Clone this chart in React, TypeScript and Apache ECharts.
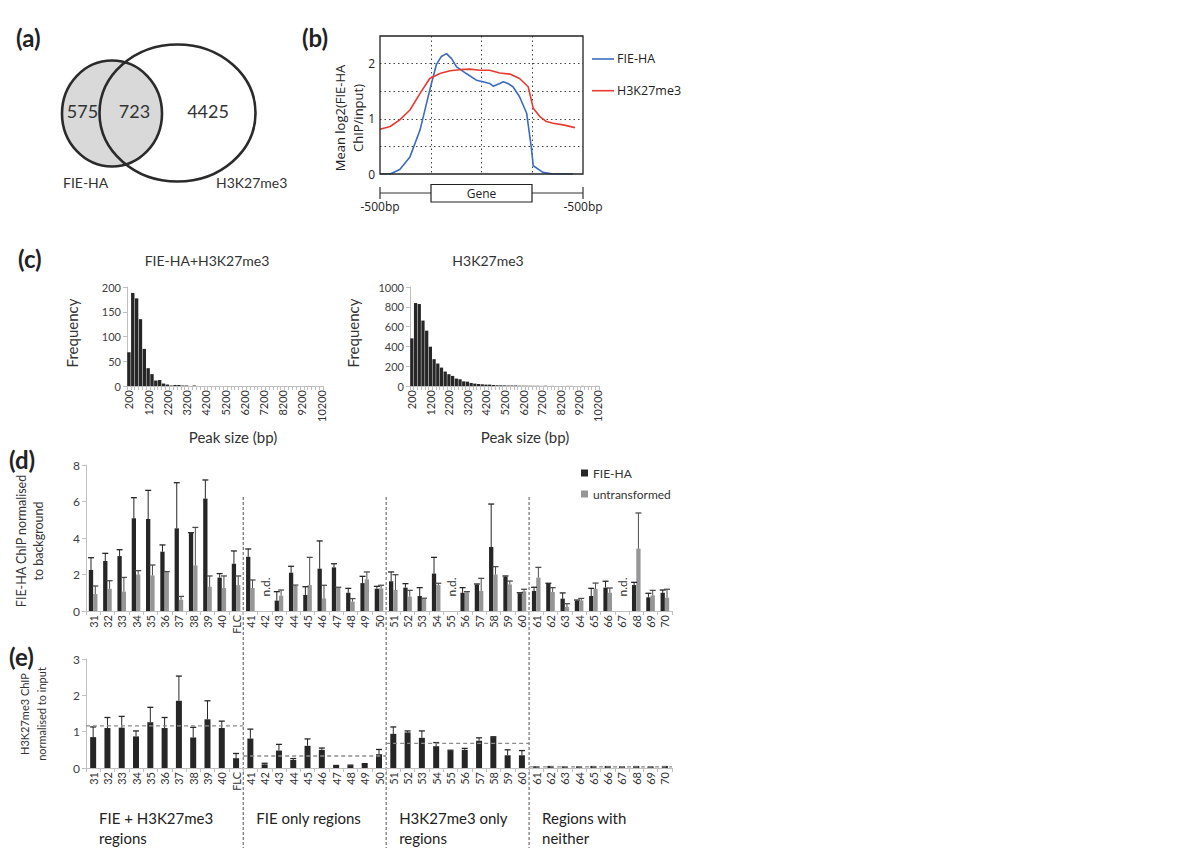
import React, { useEffect, useRef } from 'react';
import * as echarts from 'echarts';

const FONT = 'Lato, "Open Sans", sans-serif';
const FONT_B = '"Open Sans", Lato, sans-serif';

// ---------- (a) Venn ----------
const vennCounts = ['575', '723', '4425'];
const vennNames = ['FIE-HA', 'H3K27me3'];

// ---------- (b) profile ----------
const profileNames = ['FIE-HA', 'H3K27me3'];
const profileFIE: [number, number][] = [
  [0, 0.0], [0.2, 0.0], [0.39, 0.08], [0.59, 0.31], [0.79, 0.8], [0.98, 1.52], [1.11, 1.98],
  [1.21, 2.13], [1.31, 2.18], [1.41, 2.09], [1.51, 1.94], [1.7, 1.82], [1.9, 1.7], [2.03, 1.67],
  [2.16, 1.64], [2.23, 1.59], [2.36, 1.64], [2.43, 1.67], [2.52, 1.64], [2.62, 1.58], [2.75, 1.4],
  [2.89, 1.1], [2.98, 0.49], [3.02, 0.15], [3.21, 0.03], [3.41, 0.0], [3.61, 0.0], [3.8, 0.0],
];
const profileH3: [number, number][] = [
  [0, 0.81], [0.2, 0.86], [0.39, 0.98], [0.59, 1.16], [0.79, 1.46], [0.98, 1.73], [1.18, 1.82],
  [1.38, 1.87], [1.57, 1.89], [1.77, 1.9], [1.97, 1.88], [2.16, 1.88], [2.36, 1.83], [2.56, 1.81],
  [2.75, 1.73], [2.92, 1.58], [3.02, 1.19], [3.15, 1.04], [3.28, 0.95], [3.41, 0.92], [3.61, 0.89],
  [3.84, 0.84],
];
const geneLabels = ['-500bp', 'Gene', '-500bp'];

// ---------- (c) histograms ----------
const peakSizeBins = [
  '200', '400', '600', '800', '1000', '1200', '1400', '1600', '1800', '2000', '2200', '2400', '2600',
  '2800', '3000', '3200', '3400', '3600', '3800', '4000', '4200', '4400', '4600', '4800', '5000',
  '5200', '5400', '5600', '5800', '6000', '6200', '6400', '6600', '6800', '7000', '7200', '7400',
  '7600', '7800', '8000', '8200', '8400', '8600', '8800', '9000', '9200', '9400', '9600', '9800',
  '10000', '10200',
];
const histBoth = [
  68, 188, 177, 135, 75, 36, 24, 11, 12, 5, 3, 1, 2, 2, 1, 1, 0, 1, 0, 0, 0, 0, 0, 0, 0, 0, 0, 0, 0,
  0, 0, 0, 0, 0, 0, 0, 0, 0, 0, 0, 0, 0, 0, 0, 0, 0, 0, 0, 0, 0, 0,
];
const histH3 = [
  481, 838, 828, 661, 559, 397, 271, 227, 186, 146, 119, 102, 75, 68, 47, 44, 31, 24, 20, 17, 14, 14,
  10, 7, 7, 6, 5, 4, 4, 3, 3, 2, 2, 2, 2, 1, 3, 1, 1, 1, 1, 1, 1, 1, 1, 0, 1, 0, 1, 0, 1,
];
const histTitles = ['FIE-HA+H3K27me3', 'H3K27me3'];

// ---------- (d) FIE-HA ChIP ----------
const regionCats = [
  '31', '32', '33', '34', '35', '36', '37', '38', '39', '40', 'FLC',
  '41', '42', '43', '44', '45', '46', '47', '48', '49', '50',
  '51', '52', '53', '54', '55', '56', '57', '58', '59', '60',
  '61', '62', '63', '64', '65', '66', '67', '68', '69', '70',
];
const fieHA = [
  2.25, 2.74, 3.01, 5.08, 5.04, 3.25, 4.53, 4.27, 6.16, 1.83, 2.59,
  2.97, null, 0.57, 2.1, 0.88, 2.32, 2.39, 1.0, 1.53, 1.22,
  1.63, 1.28, 0.82, 2.05, null, 1.0, 1.44, 3.51, 1.88, 0.97,
  1.1, 1.5, 0.68, 0.55, 0.82, 1.28, null, 1.42, 0.75, 1.0,
];
const fieHAErr = [
  2.92, 3.16, 3.36, 6.21, 6.61, 3.62, 7.03, 4.29, 7.18, 2.05, 3.29,
  3.4, null, 1.06, 2.45, 1.33, 3.84, 2.59, 1.24, 1.9, 1.35,
  2.14, 1.5, 1.28, 2.94, null, 1.28, 1.48, 5.86, 1.92, 1.0,
  1.3, 1.52, 0.99, 0.6, 1.24, 1.63, null, 1.57, 0.97, 1.15,
];
const untrans = [
  0.93, 1.22, 1.06, 2.0, 1.95, 2.14, 0.62, 2.5, 1.33, 1.26, 1.42,
  1.26, null, 0.84, 1.37, 1.42, 0.69, 1.28, 0.51, 1.74, 1.24,
  1.15, 0.79, 0.68, 1.42, null, 1.02, 1.1, 2.0, 1.46, 1.08,
  1.83, 1.04, 0.22, 0.58, 1.21, 1.0, null, 3.42, 0.86, 0.73,
];
const untransErr = [
  1.37, 1.66, 1.84, 2.21, 2.52, 2.16, 0.8, 4.58, 1.92, 1.92, 1.92,
  1.7, null, 1.15, 1.42, 2.94, 1.41, 1.3, 0.68, 2.14, 1.41,
  1.99, 1.13, 0.7, 1.52, null, 1.06, 1.79, 2.43, 1.64, 1.19,
  2.39, 1.28, 0.4, 0.69, 1.53, 1.26, null, 5.37, 1.13, 1.19,
];
const ndCats = ['42', '55', '67'];
const dSeriesNames = ['FIE-HA', 'untransformed'];

// ---------- (e) H3K27me3 ChIP ----------
const h3Input = [
  0.85, 1.1, 1.11, 0.87, 1.26, 1.1, 1.85, 0.84, 1.34, 1.1, 0.27,
  0.81, 0.1, 0.48, 0.22, 0.61, 0.5, 0.06, 0.07, 0.11, 0.38,
  0.94, 0.98, 0.83, 0.6, 0.48, 0.5, 0.75, 0.85, 0.35, 0.35,
  0.02, 0.03, 0.02, 0.02, 0.03, 0.03, 0.02, 0.03, 0.02, 0.03,
];
const h3InputErr = [
  1.13, 1.39, 1.42, 1.02, 1.67, 1.39, 2.53, 1.12, 1.85, 1.29, 0.4,
  1.07, 0.13, 0.65, 0.26, 0.8, 0.55, 0.07, 0.08, 0.12, 0.51,
  1.13, 1.02, 1.02, 0.7, 0.49, 0.54, 0.83, 0.86, 0.5, 0.48,
  0.03, 0.04, 0.03, 0.03, 0.04, 0.04, 0.03, 0.04, 0.03, 0.04,
];
const regionBounds = [['31', 'FLC'], ['41', '50'], ['51', '60'], ['61', '70']];
const regionMeans = [1.16, 0.33, 0.68, 0.03];
const regionLabels = ['FIE + H3K27me3\nregions', 'FIE only regions', 'H3K27me3 only\nregions', 'Regions with\nneither'];

// ---------- layout ----------
const GB = { left: 380, top: 36, width: 203, height: 138 };
const GCL = { left: 127, top: 287, width: 196, height: 99 };
const GCR = { left: 410, top: 287, width: 189, height: 99 };
const GD = { left: 86, top: 465, width: 586, height: 146 };
const GE = { left: 86, top: 659, width: 586, height: 109 };

const DARK = '#262626';
const GRAYBAR = '#969696';
const AXIS = '#bfbfbf';
const TXT = '#333';

function txt(x: number, y: number, text: string, o: any = {}) {
  const align = o.align || 'left';
  const v = o.v || 'middle';
  return {
    type: 'text',
    x,
    y,
    rotation: o.rotation || 0,
    silent: true,
    style: {
      text,
      fill: o.color || TXT,
      fontSize: o.size || 12,
      fontFamily: o.family || FONT,
      fontWeight: o.weight || 'normal',
      lineHeight: o.lh,
      align,
      verticalAlign: v,
      textAlign: align,
      textVerticalAlign: v,
    },
  };
}

function errRender(offset: number, cap: number, color: string) {
  return (params: any, api: any) => {
    const i = api.value(0);
    const lo = api.value(1);
    const hi = api.value(2);
    const p1 = api.coord([i, lo]);
    const p2 = api.coord([i, hi]);
    const x = p1[0] + offset;
    return {
      type: 'group',
      children: [
        { type: 'line', shape: { x1: x, y1: p1[1], x2: x, y2: p2[1] }, style: { stroke: color, lineWidth: 1 } },
        { type: 'line', shape: { x1: x - cap, y1: p2[1], x2: x + cap, y2: p2[1] }, style: { stroke: color, lineWidth: 1.3 } },
      ],
    };
  };
}

function errData(vals: (number | null)[], errs: (number | null)[]) {
  const out: number[][] = [];
  vals.forEach((v, i) => {
    if (v != null && errs[i] != null) out.push([i, v, errs[i] as number]);
  });
  return out;
}

function catAxis(gridIndex: number, data: string[], interval: number, fontSize: number) {
  return {
    type: 'category',
    gridIndex,
    data,
    axisLine: { show: true, lineStyle: { color: AXIS, width: 1 } },
    axisTick: { show: true, interval: 0, length: 4, lineStyle: { color: AXIS } },
    axisLabel: { interval, rotate: 90, fontSize, color: TXT, fontFamily: FONT, margin: 4 },
    splitLine: { show: false },
  };
}

function valAxis(gridIndex: number, max: number, interval: number, fontSize: number) {
  return {
    type: 'value',
    gridIndex,
    min: 0,
    max,
    interval,
    axisLine: { show: true, lineStyle: { color: AXIS, width: 1 } },
    axisTick: { show: true, length: 4, lineStyle: { color: AXIS } },
    axisLabel: { fontSize, color: '#404040', fontFamily: FONT, margin: 6, formatter: (v: number) => String(v) },
    splitLine: { show: false },
  };
}

function buildOption(): any {
  const band = GD.width / regionCats.length;
  const sepX = [11, 21, 31].map((k) => GD.left + k * band);
  const regionStarts = [0, 11, 21, 31].map((k) => GD.left + k * band);

  const graphic: any[] = [
    // panel letters
    txt(16, 37, '(a)', { size: 24, weight: 'bold', color: '#222' }),
    txt(302, 37, '(b)', { size: 24, weight: 'bold', color: '#222' }),
    txt(18, 258, '(c)', { size: 24, weight: 'bold', color: '#222' }),
    txt(9, 459, '(d)', { size: 24, weight: 'bold', color: '#222' }),
    txt(9, 656, '(e)', { size: 24, weight: 'bold', color: '#222' }),
    // Venn
    { type: 'ellipse', shape: { cx: 112, cy: 113.5, rx: 50, ry: 53 }, style: { fill: '#d9d9d9', stroke: null } },
    { type: 'ellipse', shape: { cx: 177.5, cy: 113, rx: 78, ry: 68.5 }, style: { fill: 'none', stroke: '#2b2b2b', lineWidth: 2.6 } },
    { type: 'ellipse', shape: { cx: 112, cy: 113.5, rx: 50, ry: 53 }, style: { fill: 'none', stroke: '#2b2b2b', lineWidth: 2.6 } },
    txt(82.5, 111, vennCounts[0], { size: 18, align: 'center' }),
    txt(134.5, 111, vennCounts[1], { size: 18, align: 'center' }),
    txt(208, 111, vennCounts[2], { size: 18, align: 'center' }),
    txt(63, 182, vennNames[0], { size: 14 }),
    txt(216, 182, vennNames[1], { size: 14 }),
    // (b) frame
    { type: 'rect', z: 50, shape: { x: GB.left, y: GB.top, width: GB.width, height: GB.height }, style: { fill: 'none', stroke: '#222', lineWidth: 1.3 } },
    // (b) y title
    txt(349, 118, 'Mean log2(FIE-HA\nChIP/input)', { size: 13, family: FONT_B, align: 'center', rotation: Math.PI / 2, lh: 18, color: '#222' }),
    // (b) legend
    { type: 'line', shape: { x1: 592, y1: 59, x2: 614, y2: 59 }, style: { stroke: '#3a6bbf', lineWidth: 1.6 } },
    txt(617, 58.5, profileNames[0], { size: 12.5, family: FONT_B, color: '#222' }),
    { type: 'line', shape: { x1: 592, y1: 90.7, x2: 614, y2: 90.7 }, style: { stroke: '#e53b30', lineWidth: 1.6 } },
    txt(617, 90.5, profileNames[1], { size: 12.5, family: FONT_B, color: '#222' }),
    // (b) gene diagram
    { type: 'line', shape: { x1: GB.left, y1: 193, x2: GB.left + GB.width, y2: 193 }, style: { stroke: '#333', lineWidth: 1 } },
    { type: 'line', shape: { x1: GB.left, y1: 187, x2: GB.left, y2: 199 }, style: { stroke: '#333', lineWidth: 1.2 } },
    { type: 'line', shape: { x1: GB.left + GB.width, y1: 187, x2: GB.left + GB.width, y2: 199 }, style: { stroke: '#333', lineWidth: 1.2 } },
    { type: 'rect', shape: { x: 431, y: 184.5, width: 101, height: 17.5 }, style: { fill: '#fff', stroke: '#222', lineWidth: 1.2 } },
    txt(481.5, 193.5, geneLabels[1], { size: 12, family: FONT_B, align: 'center', color: '#222' }),
    txt(GB.left, 206, geneLabels[0], { size: 12, family: FONT_B, align: 'center', color: '#222' }),
    txt(GB.left + GB.width, 206, geneLabels[2], { size: 12, family: FONT_B, align: 'center', color: '#222' }),
    // (c) titles
    txt(207, 260, histTitles[0], { size: 14, align: 'center' }),
    txt(488, 260, histTitles[1], { size: 14, align: 'center' }),
    txt(72, 333, 'Frequency', { size: 15, align: 'center', rotation: Math.PI / 2 }),
    txt(353, 333, 'Frequency', { size: 15, align: 'center', rotation: Math.PI / 2 }),
    txt(233, 437, 'Peak size (bp)', { size: 15, align: 'center' }),
    txt(525, 437, 'Peak size (bp)', { size: 15, align: 'center' }),
    // (d) / (e) y titles
    txt(30, 541, 'FIE-HA ChIP normalised\nto background', { size: 12.5, align: 'center', rotation: Math.PI / 2, lh: 17 }),
    txt(33, 714, 'H3K27me3 ChIP\nnormalised to input', { size: 11, align: 'center', rotation: Math.PI / 2, lh: 16.5 }),
  ];
  sepX.forEach((x) => {
    graphic.push({ type: 'line', shape: { x1: x, y1: 497, x2: x, y2: 848 }, style: { stroke: '#555', lineWidth: 1, lineDash: [3, 2] } });
  });
  regionLabels.forEach((t, i) => {
    graphic.push(txt(regionStarts[i] + 13, 808, t, { size: 15, v: 'top', lh: 20, color: '#222' }));
  });

  const dotted = { show: true, showMinLine: false, showMaxLine: false, lineStyle: { color: '#444', type: [1.5, 3], width: 1 } };

  return {
    animation: false,
    backgroundColor: '#fff',
    textStyle: { fontFamily: FONT },
    grid: [
      { ...GB, outerBoundsMode: 'none' },
      { ...GCL, outerBoundsMode: 'none' },
      { ...GCR, outerBoundsMode: 'none' },
      { ...GD, outerBoundsMode: 'none' },
      { ...GE, outerBoundsMode: 'none' },
    ],
    xAxis: [
      {
        type: 'value', gridIndex: 0, min: 0, max: 4, interval: 1,
        axisLine: { show: false }, axisTick: { show: false }, axisLabel: { show: false },
        splitLine: dotted,
      },
      catAxis(1, peakSizeBins, 4, 11),
      catAxis(2, peakSizeBins, 4, 11),
      catAxis(3, regionCats, 0, 11),
      catAxis(4, regionCats, 0, 11),
    ],
    yAxis: [
      {
        type: 'value', gridIndex: 0, min: 0, max: 2.5, interval: 0.5,
        axisLine: { show: false }, axisTick: { show: false },
        axisLabel: {
          fontSize: 12, color: '#222', fontFamily: FONT_B, margin: 5,
          formatter: (v: number) => (Number.isInteger(v) && v < 2.5 ? String(v) : ''),
        },
        splitLine: dotted,
      },
      valAxis(1, 200, 50, 11),
      valAxis(2, 1000, 200, 11),
      valAxis(3, 8, 2, 12),
      valAxis(4, 3, 1, 12),
    ],
    legend: {
      data: [{ name: dSeriesNames[0], icon: 'rect' }, { name: dSeriesNames[1], icon: 'rect' }],
      orient: 'vertical',
      left: 576,
      top: 462,
      itemWidth: 7,
      itemHeight: 7,
      itemGap: 9,
      selectedMode: false,
      textStyle: { fontSize: 12, color: TXT, fontFamily: FONT },
    },
    graphic: { elements: graphic },
    series: [
      {
        type: 'line', name: 'profile-FIE', xAxisIndex: 0, yAxisIndex: 0, data: profileFIE,
        showSymbol: false, lineStyle: { color: '#3a6bbf', width: 1.6 }, itemStyle: { color: '#3a6bbf' }, z: 3,
      },
      {
        type: 'line', name: 'profile-H3', xAxisIndex: 0, yAxisIndex: 0, data: profileH3,
        showSymbol: false, lineStyle: { color: '#e53b30', width: 1.6 }, itemStyle: { color: '#e53b30' }, z: 3,
      },
      {
        type: 'bar', name: 'hist-both', xAxisIndex: 1, yAxisIndex: 1, data: histBoth,
        barCategoryGap: '12%', itemStyle: { color: DARK },
      },
      {
        type: 'bar', name: 'hist-h3', xAxisIndex: 2, yAxisIndex: 2, data: histH3,
        barCategoryGap: '12%', itemStyle: { color: DARK },
      },
      {
        type: 'bar', name: dSeriesNames[0], xAxisIndex: 3, yAxisIndex: 3, data: fieHA,
        barWidth: 4.3, barGap: '0%', itemStyle: { color: DARK },
      },
      {
        type: 'bar', name: dSeriesNames[1], xAxisIndex: 3, yAxisIndex: 3, data: untrans,
        barWidth: 4.3, barGap: '0%', itemStyle: { color: GRAYBAR },
      },
      {
        type: 'custom', name: 'err-fie', xAxisIndex: 3, yAxisIndex: 3, z: 4,
        renderItem: errRender(-2.15, 3, DARK), data: errData(fieHA, fieHAErr), encode: { x: 0, y: [1, 2] },
      },
      {
        type: 'custom', name: 'err-untr', xAxisIndex: 3, yAxisIndex: 3, z: 4,
        renderItem: errRender(2.15, 3, '#4d4d4d'), data: errData(untrans, untransErr), encode: { x: 0, y: [1, 2] },
      },
      {
        type: 'custom', name: 'nd', xAxisIndex: 3, yAxisIndex: 3, z: 4,
        data: ndCats.map((c) => [regionCats.indexOf(c), 0]),
        encode: { x: 0, y: 1 },
        renderItem: (params: any, api: any) => {
          const p = api.coord([api.value(0), 0]);
          return {
            type: 'text', x: p[0] + 1, y: p[1] - 24, rotation: Math.PI / 2,
            style: {
              text: 'n.d.', fontSize: 12, fontFamily: FONT, fill: TXT,
              align: 'center', verticalAlign: 'middle', textAlign: 'center', textVerticalAlign: 'middle',
            },
          };
        },
      },
      {
        type: 'bar', name: 'h3-input', xAxisIndex: 4, yAxisIndex: 4, data: h3Input,
        barWidth: 6, itemStyle: { color: DARK },
      },
      {
        type: 'custom', name: 'err-h3', xAxisIndex: 4, yAxisIndex: 4, z: 4,
        renderItem: errRender(0, 3, DARK), data: errData(h3Input, h3InputErr), encode: { x: 0, y: [1, 2] },
      },
      {
        type: 'custom', name: 'region-mean', xAxisIndex: 4, yAxisIndex: 4, z: 5,
        data: regionBounds.map((b, i) => [regionCats.indexOf(b[0]), regionCats.indexOf(b[1]), regionMeans[i]]),
        encode: { x: [0, 1], y: 2 },
        renderItem: (params: any, api: any) => {
          const v = api.value(2);
          const p1 = api.coord([api.value(0), v]);
          const p2 = api.coord([api.value(1), v]);
          const bw = api.size([1, 0])[0];
          return {
            type: 'line',
            shape: { x1: p1[0] - bw / 2, y1: p1[1], x2: p2[0] + bw / 2, y2: p2[1] },
            style: { stroke: '#8c8c8c', lineWidth: 1.3, lineDash: [4, 3] },
          };
        },
      },
    ],
  };
}

export default function App() {
  const ref = useRef<HTMLDivElement>(null);
  useEffect(() => {
    if (!ref.current) return;
    const chart = echarts.init(ref.current, null, { renderer: 'svg' });
    chart.setOption(buildOption());
    return () => chart.dispose();
  }, []);
  return (
    <div
      ref={ref}
      style={{ position: 'absolute', left: 0, top: 0, width: 1200, height: 848, background: '#fff' }}
    />
  );
}
